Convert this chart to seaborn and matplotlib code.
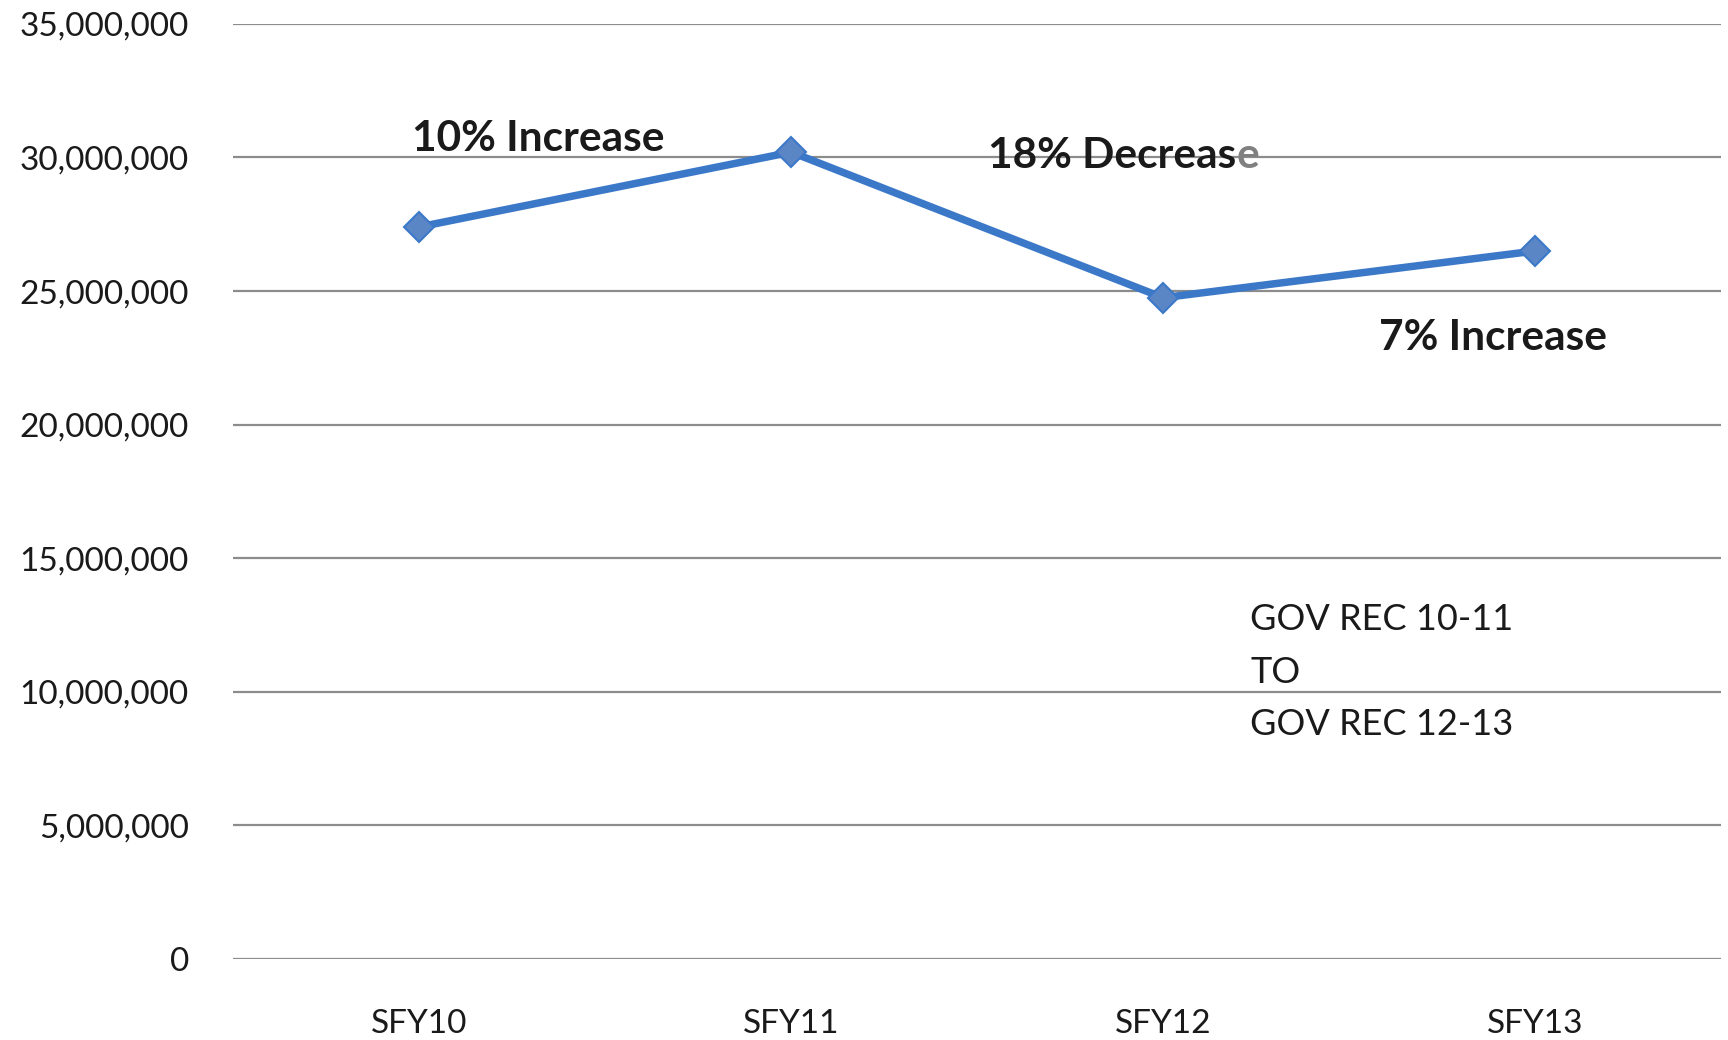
import pandas as pd
import matplotlib.pyplot as plt
import seaborn as sns
from matplotlib.ticker import FuncFormatter

years = ["SFY10", "SFY11", "SFY12", "SFY13"]
amounts = [27400000, 30200000, 24750000, 26500000]
y_ticks = [0, 5000000, 10000000, 15000000, 20000000, 25000000, 30000000, 35000000]


def thousands(x, pos):
    return f"{x:,.0f}"


data = pd.DataFrame({"year": years, "amount": amounts})

sns.set_style("white")
plt.rcParams["font.family"] = ["Lato", "DejaVu Sans"]

fig, ax = plt.subplots(figsize=(17.28, 10.4), dpi=100)
fig.subplots_adjust(left=0.135, right=0.996, top=0.977, bottom=0.078)

sns.lineplot(
    data=data,
    x="year",
    y="amount",
    sort=False,
    color="#3b78c8",
    linewidth=5.4,
    marker="D",
    markersize=15,
    markerfacecolor="#5a86c6",
    markeredgecolor="#3b78c8",
    markeredgewidth=1.5,
    ax=ax,
    zorder=3,
)

ax.set_xlim(-0.5, 3.5)
ax.set_ylim(0, 35000000)
ax.set_yticks(y_ticks)
ax.yaxis.set_major_formatter(FuncFormatter(thousands))
ax.yaxis.grid(True, color="#8c8c8c", linewidth=1.6)
ax.set_axisbelow(True)
ax.tick_params(axis="y", labelsize=24, length=0, pad=32, labelcolor="#1a1a1a")
ax.tick_params(axis="x", labelsize=24, length=0, pad=36, labelcolor="#1a1a1a")
ax.set_xlabel("")
ax.set_ylabel("")
sns.despine(left=True, bottom=True)

ax.text(-0.02, 30700000, "10% Increase", fontsize=30.5, fontweight="bold",
        color="#1a1a1a", va="center", ha="left")
dec = ax.text(1.53, 30050000, "18% Decreas", fontsize=30.5, fontweight="bold",
              color="#1a1a1a", va="center", ha="left")
ax.annotate("e", xy=(1, 0), xycoords=dec, va="bottom", ha="left",
            fontsize=30.5, fontweight="bold", color="#808080")
ax.text(2.58, 23250000, "7% Increase", fontsize=30.5, fontweight="bold",
        color="#1a1a1a", va="center", ha="left")
ax.text(2.234, 10730000, "GOV REC 10-11\nTO\nGOV REC 12-13", fontsize=26,
        color="#1a1a1a", va="center", ha="left", linespacing=1.72)

fig.savefig("out.png", dpi=100)
